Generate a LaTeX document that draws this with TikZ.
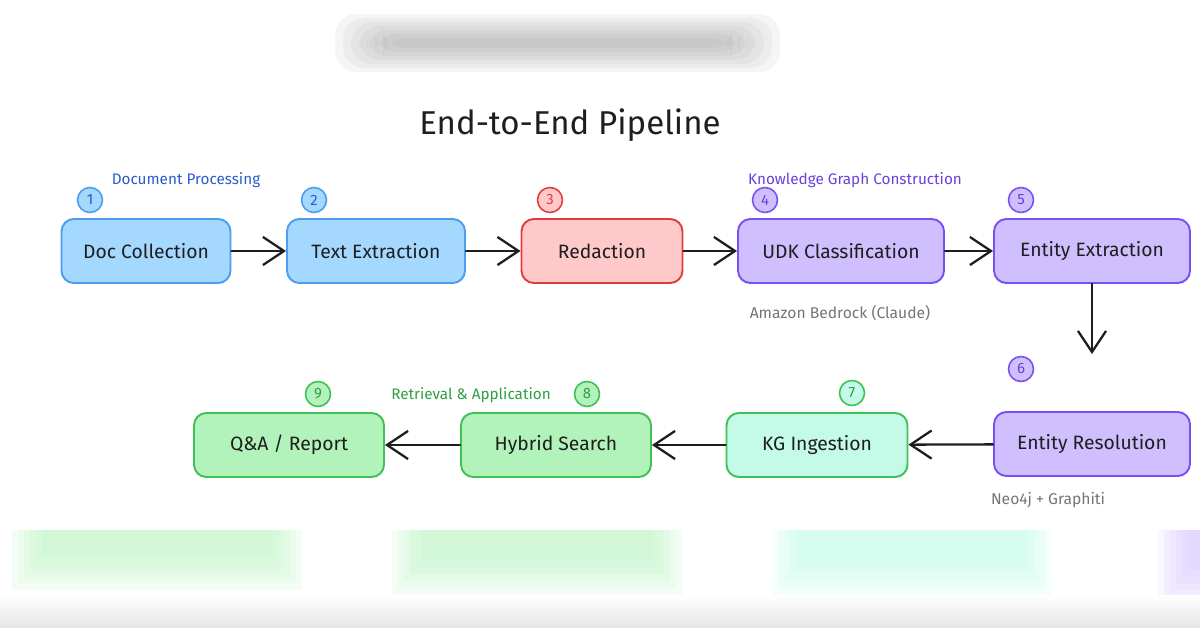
\documentclass[tikz,border=0pt]{standalone}
\usepackage{fontspec}
\setmainfont{Fira Sans}
\usetikzlibrary{arrows.meta,positioning,calc}
\definecolor{docblue}{HTML}{A5D8FF}
\definecolor{docblueline}{HTML}{4A9EED}
\definecolor{docbluetext}{HTML}{2A5BC8}
\definecolor{redfill}{HTML}{FFC9C9}
\definecolor{redline}{HTML}{E03E3E}
\definecolor{kgpurple}{HTML}{D0BFFF}
\definecolor{kgpurpleline}{HTML}{7950F2}
\definecolor{kgpurpletext}{HTML}{6741D9}
\definecolor{mint}{HTML}{C3FAE8}
\definecolor{retgreen}{HTML}{B2F2BB}
\definecolor{retgreenline}{HTML}{40C057}
\definecolor{retgreentext}{HTML}{2F9E44}
\definecolor{ink}{HTML}{1E1E1E}
\definecolor{muted}{HTML}{757575}

\begin{document}
\begin{tikzpicture}[
  x=.02cm,y=-.02cm,
  line cap=round,line join=round,
  stage/.style={rounded corners=7pt,line width=1.1pt,minimum height=1.28cm,
                text=ink,font=\fontsize{11}{13}\selectfont},
  badge/.style={circle,line width=.9pt,minimum size=.5cm,inner sep=0pt,
                font=\fontsize{8.5}{9}\selectfont},
  group/.style={font=\fontsize{8.7}{10}\selectfont},
  note/.style={font=\fontsize{8.9}{10}\selectfont,text=muted},
  flow/.style={-{Straight Barb[length=12pt,width=16pt,line width=1.3pt]},
               line width=1.3pt,draw=ink}
]
\useasboundingbox (0,0) rectangle (1200,628);

% blurred backdrop
\foreach \g in {0,...,6}
  \fill[gray,opacity=.08,rounded corners=12pt] (335+\g*8,14+\g*4) rectangle (780-\g*8,72-\g*4);
\foreach \g in {0,...,5} {
  \fill[retgreen,opacity=.14] (12+\g*6,530) rectangle (302-\g*6,590-\g*7);
  \fill[retgreen,opacity=.14] (392+\g*6,530) rectangle (682-\g*6,595-\g*7);
  \fill[mint,opacity=.18] (772+\g*6,530) rectangle (1052-\g*6,595-\g*7);
  \fill[kgpurple,opacity=.14] (1158+\g*6,530) rectangle (1200,605-\g*7);
}
\shade[top color=white,bottom color=black!10] (0,595) rectangle (1200,628);

\node[font=\fontsize{18.8}{22}\selectfont,text=ink] (title) at (570,125) {End-to-End Pipeline};

% Document processing
\node[group,text=docbluetext] (grpdoc) at (186,180) {Document Processing};
\node[stage,fill=docblue,draw=docblueline,minimum width=3.38cm] (doc) at (146,251) {Doc Collection};
\node[stage,fill=docblue,draw=docblueline,minimum width=3.56cm] (textx) at (376,251) {Text Extraction};
\node[stage,fill=redfill,draw=redline,minimum width=3.22cm] (redact) at (602,251) {Redaction};
\node[badge,fill=docblue,draw=docblueline,text=docbluetext] (n1) at (90,200) {1};
\node[badge,fill=docblue,draw=docblueline,text=docbluetext] (n2) at (314,200) {2};
\node[badge,fill=redfill,draw=redline,text=redline] (n3) at (550,200) {3};

% Knowledge graph construction
\node[group,text=kgpurpletext] (grpkg) at (855,180) {Knowledge Graph Construction};
\node[stage,fill=kgpurple,draw=kgpurpleline,minimum width=4.12cm] (udk) at (841,251) {UDK Classification};
\node[stage,fill=kgpurple,draw=kgpurpleline,minimum width=3.92cm] (entx) at (1092,251) {Entity Extraction};
\node[stage,fill=kgpurple,draw=kgpurpleline,minimum width=3.92cm] (entres) at (1092,444) {Entity Resolution};
\node[badge,fill=kgpurple,draw=kgpurpleline,text=kgpurpletext] (n4) at (765,200) {4};
\node[badge,fill=kgpurple,draw=kgpurpleline,text=kgpurpletext] (n5) at (1021,200) {5};
\node[badge,fill=kgpurple,draw=kgpurpleline,text=kgpurpletext] (n6) at (1021,369) {6};
\node[note] (bedrock) at (840,313) {Amazon Bedrock (Claude)};
\node[note] (neo) at (1048,500) {Neo4j + Graphiti};

% Retrieval and application
\node[group,text=retgreentext] (grpret) at (471,395) {Retrieval \& Application};
\node[stage,fill=mint,draw=retgreenline,minimum width=3.62cm] (kging) at (817,445) {KG Ingestion};
\node[stage,fill=retgreen,draw=retgreenline,minimum width=3.8cm] (hybrid) at (556,445) {Hybrid Search};
\node[stage,fill=retgreen,draw=retgreenline,minimum width=3.8cm] (qa) at (289,445) {Q\&A / Report};
\node[badge,fill=mint,draw=retgreenline,text=retgreentext] (n7) at (852,393) {7};
\node[badge,fill=retgreen,draw=retgreenline,text=retgreentext] (n8) at (587,394) {8};
\node[badge,fill=retgreen,draw=retgreenline,text=retgreentext] (n9) at (318,394) {9};

% Flow
\draw[flow] (doc) -- (textx);
\draw[flow] (textx) -- (redact);
\draw[flow] (redact) -- (udk);
\draw[flow] (udk) -- (entx);
\draw[flow,shorten >=1.14cm] (entx) -- (entres);
\draw[flow] (entres) -- (kging);
\draw[flow] (kging) -- (hybrid);
\draw[flow] (hybrid) -- (qa);
\end{tikzpicture}
\end{document}
